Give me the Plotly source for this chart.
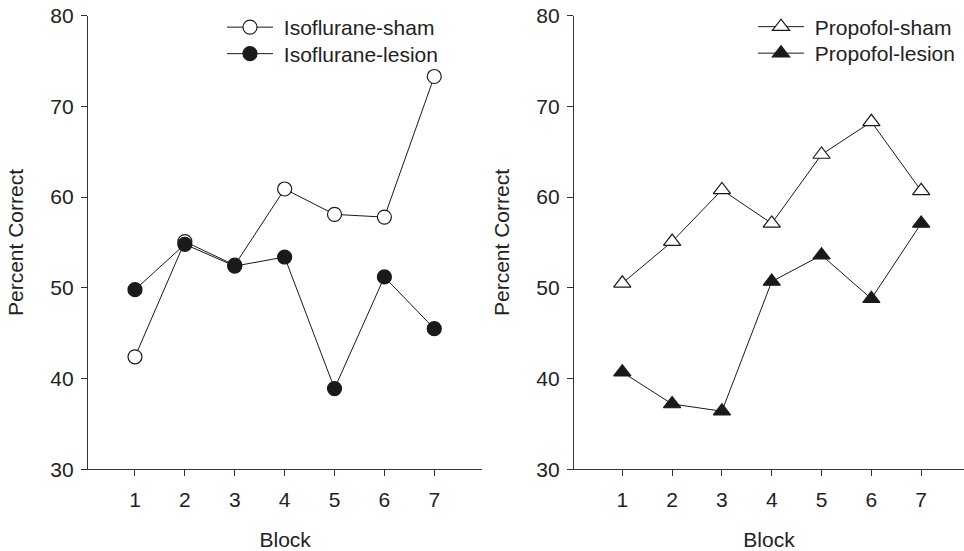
import plotly.graph_objects as go

blocks = [1, 2, 3, 4, 5, 6, 7]
iso_sham = [42.4, 55.1, 52.5, 60.9, 58.1, 57.8, 73.3]
iso_lesion = [49.8, 54.8, 52.4, 53.4, 38.9, 51.2, 45.5]
prop_sham = [50.5, 55.1, 60.8, 57.1, 64.7, 68.3, 60.7]
prop_lesion = [40.7, 37.2, 36.4, 50.7, 53.6, 48.8, 57.1]
y_ticks = [30, 40, 50, 60, 70, 80]

W, H = 964, 551
FONT = "Liberation Sans, Arial, Helvetica, sans-serif"
FS = 21
TXT = "#222222"
AX = "#333333"
NB = "\u00a0"

fig = go.Figure()

def add(x, y, name, symbol, fill, size, xa, ya, legend):
    fig.add_trace(go.Scatter(
        x=x, y=y, name=NB + name, mode="lines+markers",
        line=dict(color="#1a1a1a", width=1),
        marker=dict(symbol=symbol, size=size, color=fill,
                    line=dict(color="#1a1a1a", width=1.2)),
        xaxis=xa, yaxis=ya, legend=legend, cliponaxis=False))

add(blocks, iso_sham, "Isoflurane-sham", "circle", "white", 14, "x", "y", "legend")
add(blocks, iso_lesion, "Isoflurane-lesion", "circle", "#1a1a1a", 14, "x", "y", "legend3")
add(blocks, prop_sham, "Propofol-sham", "triangle-up", "white", 15, "x2", "y2", "legend2")
add(blocks, prop_lesion, "Propofol-lesion", "triangle-up", "#1a1a1a", 15, "x2", "y2", "legend4")

y_dom = [(H - 469.3) / H, (H - 15.7) / H]

common_x = dict(tickmode="array", tickvals=blocks, ticktext=[str(b) for b in blocks],
                ticks="outside", ticklen=6, tickwidth=1, tickcolor=AX,
                showline=True, linecolor=AX, linewidth=1.2, showgrid=False,
                zeroline=False, automargin=False, ticklabelstandoff=5,
                tickfont=dict(family=FONT, size=FS, color=TXT),
                title=dict(text="Block", font=dict(family=FONT, size=FS, color=TXT), standoff=22))
common_y = dict(range=[30, 80], tickmode="array", tickvals=y_ticks,
                ticks="outside", ticklen=6, tickwidth=1, tickcolor=AX,
                showline=True, linecolor=AX, linewidth=1.2, showgrid=False,
                zeroline=False, automargin=False, domain=y_dom, ticklabelstandoff=3,
                tickfont=dict(family=FONT, size=FS, color=TXT),
                title=dict(text="Percent Correct", font=dict(family=FONT, size=FS, color=TXT), standoff=20))

def leg(xpx, ypx):
    return dict(x=xpx / W, y=(H - ypx) / H, xanchor="left", yanchor="middle",
                bgcolor="rgba(0,0,0,0)", borderwidth=0, itemwidth=46,
                font=dict(family=FONT, size=FS, color=TXT), tracegroupgap=0)

fig.update_layout(
    width=W, height=H, autosize=False,
    margin=dict(l=0, r=0, t=0, b=0),
    paper_bgcolor="white", plot_bgcolor="white",
    font=dict(family=FONT, size=FS, color=TXT),
    xaxis=dict(common_x, domain=[88 / W, 482.3 / W], range=[0.058, 7.963], anchor="y"),
    yaxis=dict(common_y, anchor="x"),
    xaxis2=dict(common_x, domain=[574 / W, 1.0], range=[0.03, 7.86], anchor="y2"),
    yaxis2=dict(common_y, anchor="x2"),
    legend=leg(222, 27.5),
    legend3=leg(222, 54),
    legend2=leg(753, 27),
    legend4=leg(753, 53.5),
    showlegend=True,
)

fig.write_html("out.html", config={"displayModeBar": False},
               post_script="document.body.style.margin='0';")
